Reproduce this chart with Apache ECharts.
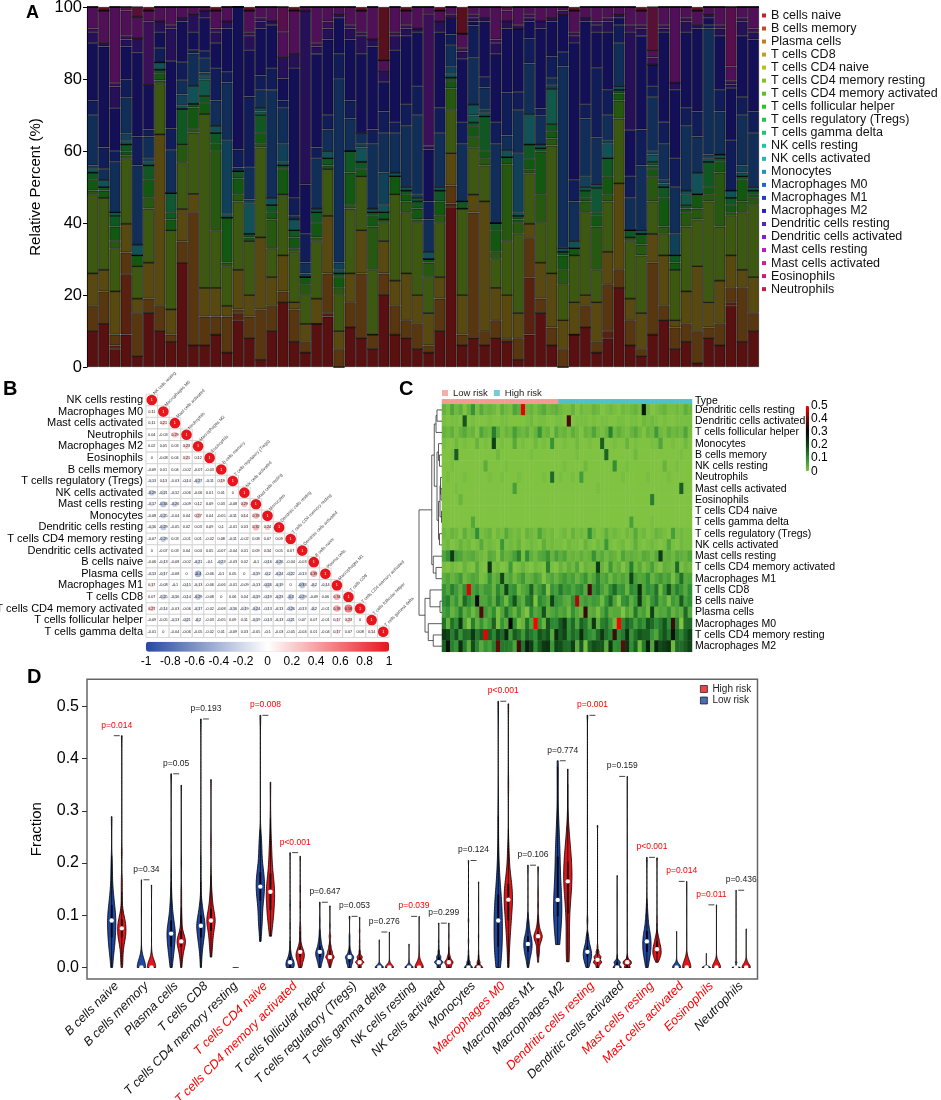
<!DOCTYPE html>
<html>
<head>
<meta charset="utf-8">
<script src="https://cdn.jsdelivr.net/npm/echarts@6/dist/echarts.min.js"></script>
<style>html,body{margin:0;padding:0;background:#fff}#main{width:941px;height:1100px}</style>
</head>
<body>
<div id="main"></div>
<script>
var FONT = "Liberation Sans, Arial, sans-serif";

// ---- samples: first nLow are low risk, the rest high risk (values in %) ----
var nLow = 28;
var cellTypes = ["B cells naive", "B cells memory", "Plasma cells", "T cells CD8", "T cells CD4 naive",
  "T cells CD4 memory resting", "T cells CD4 memory activated", "T cells follicular helper",
  "T cells regulatory (Tregs)", "T cells gamma delta", "NK cells resting", "NK cells activated",
  "Monocytes", "Macrophages M0", "Macrophages M1", "Macrophages M2", "Dendritic cells resting",
  "Dendritic cells activated", "Mast cells resting", "Mast cells activated", "Eosinophils", "Neutrophils"];

var bNaive = [10,12,5,9,3,15,10,7,28.9,6,6,9,4,13,8,2,10,18,7,4,12,14,0,11,8,5,20,9,
  8,5,4,10,44.4,6,8,6,8,7,2,9,15,6,0,9,11,4,8,22,6,3,9,13,5,7,1,8,6,17,7,10];
var bMemory = [0,0,1,16.8,0,0,0,0,0,0,0,0,0,2,0,0,0,0,0,0,0,1,0,0,0,0,0,0,
  0,0,0,0,1,0,0,0,0,0,0,15.8,0,0,0,0,0,0,2,0,0,0,0,0,0,0,0,0,0,1,0,0];
var plasma = [7,9,3,6,12,4,7,2,6,37.1,8,5,10,1,6,14,7,3,9,3,0,11,5,7,18,4,6,8,
  5,7,2,9,5,3,34.9,4,5,1,6,11,4,5,5,0,6,3,13,5,7,2,20,4,6,5,9,3,6,4,15,5];
var tCD8 = [9,6,12,8,4,10,47.6,7,9,5,8,8,3,11,6,20,8,10,2,5,7,16,5,8,12,0,9,7,
  13,8,9,6,9,11,5,36,9,12,7,4,10,15,8,9,3,11,9,24,6,10,8,14,2,9,18,7,12,9,5,10];
var tCD4Naive = [0,0,0,0,0,0,0,0,0,0,0,0,0,0,0,0,0,0,0,0,0,0,0,0,0,0,0,0,
  0,0,0,0,0,0,0,0,0,0,0,0,0,0,0,0,0,0,0,0,0,0,0,0,0,0,0,0,0,0,0,0];
var tCD4MemRest = [22,20,12,18,9,15,14,22,13,17,48.3,16,11,19,15,25,8,17,14,8,16,13,10,18,15,18,5,24,
  17,20,10,15,12,24,13,10,8,15,22,14,11,35.5,10,13,23,9,14,18,16,16,9,6,14,18,13,28,15,11,16,20];
var tCD4MemAct = [1,0,2,1,0,3,1,0,5,1,0,22,1,2,0,1,8,0,1,3,1,0,2,1,0,12,1,0,
  3,1,4,2,6,0,3,2,2,21.3,3,1,8,2,4,0,3,12,2,5,1,3,7,2,0,4,3,2,15,1,3,2];
var tFh = [3,2,4,1,3,5,2,3,0,6,3,2,12.5,4.4,1,3,2,7,3,2,4,1,3,9,2,3,0,5,
  2,3,1,4,2,0,3,2,6,2,1,3,11.8,2,4,2,1,3,5,2,0,3,2,8,2,1,4,2,3,2,6,1];
var tReg = [2,1,3,2,0,4,1,2,9.8,1,2,3,0,2,1,5,2,1,2,0,3,2,1,6,2,1,2,0,
  1,2,0,3,1,2,1,9.6,2,0,1,4,1,2,1,0,2,1,5,1,2,0,1,3,2,1,0,7,1,2,1,1];
var tGammaDelta = [0,0,0,0,0,0,0,5.3,0,0,0,0,0,0,0,0,0,0,0,0,0,0,0,0,0,0,0,0,
  0,0,0,0,0,0,0,0,0,0,0,0,0,0,0,0,0,6.8,0,0,0,0,1,0,0,0,0,0,0,0,0,0];
var nkRest = [0,0,1,0,0,0,0,0,0,0,4.5,0,0,0,0,1,0,0,0,0,0,0,0,0,0,0,0,0,
  0,1,0,0,0,0,2,0,0,0,0,0,0,9.8,0,0,1,0,0,0,0,0,0,0,0,3,0,0,1,0,0,0];
var nkAct = [1,2,0,1,3,1,2,0,1,5,1,2,1,0,8.5,1,2,1,3,0,1,2,1,0,4,1,2,1,
  1,0,2,1,1,0,3,1,0,2,1,8.5,1,0,1,2,0,1,4,1,0,1,2,1,0,1,6,1,0,2,1,1];
var monocytes = [1,0,0,2,0,1,0,0,3,0,1,0,20.5,0,1,0,0,5,0,1,0,0,2,0,1,0,9,0,
  0,1,0,0,2,0,0,1,0,0,16.4,0,0,1,0,0,3,0,1,0,0,0,1,1,6,0,0,1,0,0,2,0];
var macM0 = [14,3,14,10,22,6,0,12,4,9,4,7,16,1,9,5,30,10,1,3,14,6,51,9,3,18,11,11,
  17,22,9,15,6,16,13,6,22,4,12,14,8,2,50.5,11,16,13,7,12,9,18,15,10,13,18,10,35,12,0,14,15];
var macM1 = [4,6,3,5,8,2,4,6,5,1,2,9,3,5,19.6,4,6,2,5,8,3,4,7,5,0,4,6,3,
  6,8,5,7,3,6,9,3,6,12,5,7,2,6,4,6,4,19.3,7,5,6,10,3,6,8,5,7,1,6,14,5,6];
var macM2 = [16,28,11.9,9.2,23.3,12.4,4.4,18.7,11.3,4.9,9.2,7,12,39.6,12.9,13,12,6.1,36,13.7,26,21,10,17,22,23,8.2,20,
  19,15,14.4,21,4.6,17.6,1.1,15.4,19,17.7,17.6,4.7,22.2,9.7,10.5,38,23,9.9,16,2,12.8,26,6,25,19,21,23,2,15,14.5,17,20];
var dcRest = [3,1,6,2,4,0,3,9,1,5,2,3,2,0,4,2,1,6,4,48.3,2,3,1,3,5,2,3,4,
  2,1,1,3,0,2,1,1,3,2,0,1,2,1,0,2,1,2,3,1,27.2,2,0,1,2,3,1,1,2,1,4,2];
var dcAct = [1,0,1,1,0,17.6,0,1,0,0,0,1,0,0,1,1,0,0,0,0,1,2,0,1,1,0,0,1,
  1,0,36.6,0,1,1,1,0,1,0,1,1,0,0,1,1,0,1,1,0,2,1,2,1,0,1,0,0,1,1,1,1];
var mastRest = [6,9,21.1,7,6,3,4,5,3,2,1,5,4,0,6,3,4,7,12,1,10,4,2,5,6,9,3,7,
  4,6,2,3,2,4,2,3,9,3,5,2,4,3,1,6,3,4,3,2,5,4,2,5,21,3,4,2,5,4,3,6];
var mastAct = [0,0,0,1,0,0,0,0,0,0,0,0,0,0,0,0,0,6.9,0,0,0,0,0,0,0,0,0,0,
  0,0,0,0,0,0,0,0,0,1,0,0,0,0,0,0,0,0,0,0,0,0,0,0,0,0,0,0,0,16.5,0,0];
var eosinophils = [0,0,0,0,2.7,0,0,0,0,0,0,0,0,0,0,0,0,0,0,0,0,0,0,0,0,0,0,0,
  0,0,0,0,0,0,0,0,0,0,0,0,0,0,0,0,0,0,0,0,0,0,12,0,0,0,0,0,0,0,0,0];
var neutrophils = [0,1,0,0,0,1,0,0,0,0,0,1,0,0,1,0,0,0,1,0,0,0,0,0,1,0,14.8,0,
  1,0,0,1,0,7.4,0,0,0,0,0,0,0,0,0,1,0,0,0,0,0,1,0,0,0,0,1,0,0,0,0,0];

var fractions = [bNaive, bMemory, plasma, tCD8, tCD4Naive, tCD4MemRest, tCD4MemAct, tFh, tReg,
  tGammaDelta, nkRest, nkAct, monocytes, macM0, macM1, macM2, dcRest, dcAct, mastRest, mastAct,
  eosinophils, neutrophils];

var legendColors = ["#c32222","#c34a22","#c37a22","#c3a022","#b5c322","#86c322","#56c322","#2bc322",
  "#22c34a","#22c372","#22c3a5","#22b5c3","#2290c3","#2266c3","#2240c3","#2822c3","#5522c3","#8522c3",
  "#b022c3","#c322a8","#c32278","#c32245"];
var barColors = ["#581010","#582110","#583710","#584910","#525810","#3d5810","#275810","#135810",
  "#105821","#105833","#10584a","#105258","#104158","#102e58","#101d58","#131058","#261058","#3c1058",
  "#501058","#58104c","#581036","#58101e"];

// ---- panel B: correlation matrix (lower triangle) ----
var corrLabels = ["NK cells resting", "Macrophages M0", "Mast cells activated", "Neutrophils",
  "Macrophages M2", "Eosinophils", "B cells memory", "T cells regulatory (Tregs)", "NK cells activated",
  "Mast cells resting", "Monocytes", "Dendritic cells resting", "T cells CD4 memory resting",
  "Dendritic cells activated", "B cells naive", "Plasma cells", "Macrophages M1", "T cells CD8",
  "T cells CD4 memory activated", "T cells follicular helper", "T cells gamma delta"];
var corrValues = [
  [1],
  [0.11, 1],
  [0.11, 0.21, 1],
  [0.04, -0.03, 0.29, 1],
  [0.02, 0.05, 0.03, 0.23, 1],
  [0, -0.08, 0.04, 0.21, 0.12, 1],
  [-0.09, 0.01, 0.04, -0.02, -0.07, -0.03, 1],
  [-0.13, 0.13, -0.03, -0.14, -0.27, -0.11, 0.19, 1],
  [-0.29, -0.21, -0.12, -0.06, -0.06, 0.01, 0.01, 0, 1],
  [-0.17, -0.34, -0.26, -0.09, 0.12, 0.09, 0.03, -0.08, 0.29, 1],
  [-0.08, -0.25, -0.04, 0.04, 0.27, 0.04, -0.05, -0.11, 0.14, 0.33, 1],
  [-0.16, -0.29, -0.05, 0.02, 0.03, 0.09, 0.1, -0.01, 0.03, 0.32, 0.24, 1],
  [-0.07, -0.29, 0.03, -0.01, 0.01, -0.02, 0.08, -0.11, -0.02, 0.08, 0.07, 0.09, 1],
  [0, -0.07, 0.03, 0.04, 0.04, 0.05, -0.07, -0.04, 0.01, 0.09, 0.14, 0.05, 0.07, 1],
  [-0.06, -0.13, -0.08, -0.02, -0.21, -0.1, -0.23, -0.03, 0.02, -0.1, -0.16, -0.26, -0.04, -0.03, 1],
  [-0.13, -0.17, -0.08, 0, -0.4, -0.06, -0.1, 0.05, 0, -0.19, -0.2, -0.24, -0.22, -0.13, 0.39, 1],
  [0.17, -0.08, -0.1, -0.15, -0.13, -0.06, -0.06, -0.01, -0.09, -0.13, -0.26, -0.19, 0, -0.33, -0.2, -0.14, 1],
  [0.07, -0.25, -0.16, -0.14, -0.29, -0.08, 0, 0.06, 0.04, -0.19, -0.19, -0.23, -0.3, -0.29, -0.09, 0.06, 0.34, 1],
  [0.27, -0.14, -0.03, -0.06, -0.17, -0.02, -0.08, -0.16, -0.19, -0.24, -0.13, -0.13, -0.26, -0.13, -0.2, -0.01, 0.38, 0.58, 1],
  [-0.09, -0.05, -0.13, -0.21, -0.2, -0.03, -0.05, 0.09, 0.11, -0.19, -0.13, -0.13, -0.21, 0.07, 0.07, -0.01, 0.17, 0.23, 0, 1],
  [-0.01, 0, -0.04, -0.06, -0.05, -0.02, 0.01, -0.09, 0.03, -0.05, -0.1, -0.03, -0.05, -0.04, 0.01, -0.04, 0.17, 0.07, 0.08, 0.14, 1]
];
var corrColors = ["#2548a0", "#ffffff", "#e8161c"];
var corrTicks = [-1, 1];

// ---- panel C: heatmap rows and dendrogram merges [childA, childB, height] ----
var heatRows = ["Dendritic cells resting", "Dendritic cells activated", "T cells follicular helper",
  "Monocytes", "B cells memory", "NK cells resting", "Neutrophils", "Mast cells activated", "Eosinophils",
  "T cells CD4 naive", "T cells gamma delta", "T cells regulatory (Tregs)", "NK cells activated",
  "Mast cells resting", "T cells CD4 memory activated", "Macrophages M1", "T cells CD8", "B cells naive",
  "Plasma cells", "Macrophages M0", "T cells CD4 memory resting", "Macrophages M2"];
var dendroMerges = [[0,1,0.2],[22,2,0.24],[4,5,0.1],[3,24,0.14],[7,8,0.04],[6,26,0.06],[9,10,0.02],
  [27,28,0.08],[11,12,0.1],[29,30,0.14],[25,31,0.2],[23,32,0.31],[14,15,0.24],[13,34,0.35],[33,35,0.41],
  [17,18,0.08],[16,37,0.48],[20,21,0.35],[19,39,0.55],[38,40,0.68],[36,41,0.92]];
var heatColors = ["#80c342", "#2f8f35", "#0e4416", "#080808", "#6a0e0e", "#ff0000"];
var typeColors = ["#f39b93", "#4fc1c8"];

// ---- panel D: violin labels and p values ----
var violinLabels = ["B cells naive", "B cells memory", "Plasma cells", "T cells CD8",
  "T cells CD4 memory resting", "T cells CD4 naive", "T cells CD4 memory activated",
  "T cells follicular helper", "T cells regulatory (Tregs)", "T cells gamma delta", "NK cells resting",
  "NK cells activated", "Monocytes", "Macrophages M0", "Macrophages M1", "Macrophages M2",
  "Dendritic cells resting", "Dendritic cells activated", "Mast cells resting", "Mast cells activated",
  "Eosinophils", "Neutrophils"];
var pValues = ["p=0.014", "p=0.34", "p=0.05", "p=0.193", "", "p=0.008", "p<0.001", "p=0.647", "p=0.053",
  "p=0.276", "p=0.039", "p=0.299", "p=0.124", "p<0.001", "p=0.106", "p=0.774", "p=0.001", "p=0.159",
  "p<0.001", "p=0.014", "p=0.011", "p=0.436"];
var redLabels = ["T cells CD4 naive", "T cells CD4 memory activated", "Macrophages M0",
  "Dendritic cells resting", "Mast cells resting", "Mast cells activated", "Eosinophils"];
var fractionTicks = [0, 0.1, 0.2, 0.3, 0.4, 0.5];
var lowColor = "#1f48a3", highColor = "#e8141b";

// ---------------------------------------------------------------
var sampleNames = bNaive.map(function (v, s) { return "S" + (s + 1); });

function quantile(sorted, p) {
  var h = (sorted.length - 1) * p, lo = Math.floor(h);
  var hi = Math.min(lo + 1, sorted.length - 1);
  return sorted[lo] + (h - lo) * (sorted[hi] - sorted[lo]);
}

function violinStats(values) {
  var v = values.slice().sort(function (a, b) { return a - b; });
  var n = v.length;
  var mean = v.reduce(function (s, x) { return s + x; }, 0) / n;
  var sd = Math.sqrt(v.reduce(function (s, x) { return s + (x - mean) * (x - mean); }, 0) / (n - 1));
  var st = { min: v[0], max: v[n - 1], q1: quantile(v, 0.25), med: quantile(v, 0.5), q3: quantile(v, 0.75) };
  if (sd === 0) return st;
  var iqr = st.q3 - st.q1;
  var lo = Math.min(sd, iqr / 1.34) || sd;
  var bw = 0.9 * lo * Math.pow(n, -0.2);
  var prof = [], peak = 0;
  for (var k = 0; k <= 90; k++) {
    var y = st.min + (st.max - st.min) * k / 90, d = 0;
    v.forEach(function (x) { var z = (y - x) / bw; d += Math.exp(-0.5 * z * z); });
    prof.push([y, d]);
    peak = Math.max(peak, d);
  }
  st.profile = prof.map(function (p) { return [p[0], p[1] / peak]; });
  st.upper = Math.min(st.q3 + 1.5 * iqr, st.max);
  st.lower = Math.max(st.q1 - 1.5 * iqr, st.min);
  return st;
}

var violins = fractions.map(function (arr) {
  var f = arr.map(function (x) { return x / 100; });
  return { low: violinStats(f.slice(0, nLow)), high: violinStats(f.slice(nLow)) };
});

var corrData = [];
corrValues.forEach(function (row, i) {
  row.forEach(function (r, j) { corrData.push([j, i, r]); });
});

var heatData = [];
heatRows.forEach(function (name, r) {
  var arr = fractions[cellTypes.indexOf(name)];
  arr.forEach(function (v, s) { heatData.push([s, r, v / 100]); });
});
var typeData = sampleNames.map(function (n, s) { return [s, 0, s < nLow ? 0 : 1]; });

var nodeY = heatRows.map(function (n, i) { return i; });
var nodeH = heatRows.map(function () { return 0; });
var dendroData = dendroMerges.map(function (m) {
  var item = [nodeY[m[0]], nodeY[m[1]], m[2], nodeH[m[0]], nodeH[m[1]]];
  nodeY.push((nodeY[m[0]] + nodeY[m[1]]) / 2);
  nodeH.push(m[2]);
  return item;
});

var barSeries = cellTypes.map(function (name, k) {
  return {
    name: name, type: "bar", stack: "total", xAxisIndex: 0, yAxisIndex: 0,
    barCategoryGap: "0%", data: fractions[k],
    itemStyle: { color: barColors[k], borderColor: "rgba(0,0,0,0.75)", borderWidth: 0.7 },
    emphasis: { disabled: true }
  };
});

var halfWidth = 0.14;

var option = {
  animation: false,
  backgroundColor: "#fff",
  textStyle: { fontFamily: FONT },
  title: [
    { text: "A", left: 26, top: 4, padding: 0, textStyle: { fontSize: 18, fontWeight: "bold", color: "#000", fontFamily: FONT } },
    { text: "B", left: 3, top: 379, padding: 0, textStyle: { fontSize: 20, fontWeight: "bold", color: "#000", fontFamily: FONT } },
    { text: "C", left: 399, top: 379, padding: 0, textStyle: { fontSize: 20, fontWeight: "bold", color: "#000", fontFamily: FONT } },
    { text: "D", left: 27, top: 667, padding: 0, textStyle: { fontSize: 20, fontWeight: "bold", color: "#000", fontFamily: FONT } }
  ],
  legend: [
    {
      orient: "vertical", left: 762, top: 9, padding: 0, itemWidth: 4, itemHeight: 4, itemGap: 0.03,
      icon: "rect", selectedMode: false,
      textStyle: { fontSize: 12.5, color: "#111", fontFamily: FONT },
      data: cellTypes.map(function (n, i) { return { name: n, itemStyle: { color: legendColors[i], borderWidth: 0 } }; })
    },
    {
      orient: "horizontal", left: 442, top: 388, padding: 0, itemWidth: 6, itemHeight: 6, itemGap: 6,
      icon: "rect", selectedMode: false,
      textStyle: { fontSize: 9.5, color: "#222", fontFamily: FONT },
      data: [{ name: "Low risk", itemStyle: { color: typeColors[0] } }, { name: "High risk", itemStyle: { color: typeColors[1] } }]
    },
    {
      orient: "vertical", left: 700, top: 684, padding: 0, itemWidth: 7, itemHeight: 7, itemGap: 1.5,
      icon: "rect", selectedMode: false,
      textStyle: { fontSize: 10, color: "#222", fontFamily: FONT },
      data: [
        { name: "High risk", itemStyle: { color: highColor, borderColor: "#000", borderWidth: 0.8 } },
        { name: "Low risk", itemStyle: { color: lowColor, borderColor: "#000", borderWidth: 0.8 } }
      ]
    }
  ],
  visualMap: [
    {
      type: "continuous", seriesIndex: 22, dimension: 2, min: -1, max: 1, orient: "horizontal",
      left: 146, top: 641.7, itemWidth: 10, itemHeight: 243, padding: 0, calculable: false, hoverLink: false,
      inRange: { color: corrColors }
    },
    {
      type: "continuous", seriesIndex: 24, dimension: 2, min: 0, max: 0.5, orient: "vertical",
      left: 805.7, top: 405.7, itemWidth: 3.3, itemHeight: 65.5, padding: 0, calculable: false, hoverLink: false,
      inRange: { color: heatColors }
    },
    {
      type: "piecewise", seriesIndex: 23, dimension: 2, show: false,
      pieces: [{ value: 0, color: typeColors[0] }, { value: 1, color: typeColors[1] }]
    }
  ],
  grid: [
    { left: 87, top: 7, width: 672, height: 360, outerBoundsMode: "none" },
    { left: 146, top: 394.2, width: 243, height: 243.3, outerBoundsMode: "none" },
    { left: 146, top: 651.7, width: 243, height: 1, outerBoundsMode: "none" },
    { left: 442, top: 399.3, width: 250, height: 4.5, outerBoundsMode: "none" },
    { left: 442, top: 404.3, width: 250, height: 247.5, outerBoundsMode: "none" },
    { left: 417, top: 404.3, width: 25, height: 247.5, outerBoundsMode: "none" },
    { left: 805.7, top: 405.7, width: 3.3, height: 65.5, outerBoundsMode: "none" },
    { left: 87, top: 679.3, width: 670.5, height: 299.7, show: true, borderColor: "#666", borderWidth: 1.5, outerBoundsMode: "none" }
  ],
  xAxis: [
    { type: "category", gridIndex: 0, data: sampleNames, show: false },
    { type: "category", gridIndex: 1, data: corrLabels, show: false },
    {
      type: "value", gridIndex: 2, min: corrTicks[0], max: corrTicks[1], interval: 0.2,
      axisLine: { show: false }, axisTick: { show: false }, splitLine: { show: false },
      axisLabel: { fontSize: 12, color: "#000", margin: 3, fontFamily: FONT }
    },
    { type: "category", gridIndex: 3, data: sampleNames, show: false },
    { type: "category", gridIndex: 4, data: sampleNames, show: false },
    { type: "value", gridIndex: 5, min: 0, max: 1, inverse: true, show: false },
    { type: "value", gridIndex: 6, show: false },
    {
      type: "value", gridIndex: 7, min: 0, max: 22.55, interval: 1,
      axisLine: { show: false }, axisTick: { show: false }, splitLine: { show: false },
      axisLabel: {
        rotate: 45, margin: 5, fontSize: 12.5, fontStyle: "italic", color: "#111", fontFamily: FONT,
        hideOverlap: false,
        formatter: function (v) {
          var k = Math.round(v);
          if (Math.abs(v - k) > 1e-6 || k < 1 || k > violinLabels.length) return "";
          var name = violinLabels[k - 1];
          return redLabels.indexOf(name) >= 0 ? "{r|" + name + "}" : name;
        },
        rich: { r: { color: "#ff0000", fontStyle: "italic", fontSize: 12.5, fontFamily: FONT } }
      }
    }
  ],
  yAxis: [
    {
      type: "value", gridIndex: 0, min: 0, max: 100, interval: 20,
      name: "Relative Percent (%)", nameLocation: "middle", nameGap: 43,
      nameTextStyle: { fontSize: 15, color: "#000", fontFamily: FONT },
      axisLine: { show: true, lineStyle: { color: "#000", width: 1 } },
      axisTick: { show: true, length: 4, lineStyle: { color: "#000" } },
      splitLine: { show: false },
      axisLabel: { fontSize: 16.5, color: "#000", margin: 5, fontFamily: FONT }
    },
    {
      type: "category", gridIndex: 1, data: corrLabels, inverse: true,
      axisLine: { show: false }, axisTick: { show: false },
      axisLabel: { interval: 0, fontSize: 11, color: "#000", margin: 3, fontFamily: FONT }
    },
    { type: "value", gridIndex: 2, show: false },
    {
      type: "category", gridIndex: 3, data: ["Type"], position: "right",
      axisLine: { show: false }, axisTick: { show: false },
      axisLabel: { fontSize: 10.5, color: "#000", margin: 3, fontFamily: FONT, padding: [0, 0, 5, 0] }
    },
    {
      type: "category", gridIndex: 4, data: heatRows, inverse: true, position: "right",
      axisLine: { show: false }, axisTick: { show: false },
      axisLabel: { interval: 0, fontSize: 10.5, color: "#000", margin: 3, fontFamily: FONT }
    },
    { type: "value", gridIndex: 5, min: -0.5, max: 21.5, inverse: true, show: false },
    {
      type: "value", gridIndex: 6, min: 0, max: 0.5, interval: 0.1, position: "right",
      axisLine: { show: false }, axisTick: { show: false }, splitLine: { show: false },
      axisLabel: { fontSize: 12, color: "#000", margin: 2, fontFamily: FONT }
    },
    {
      type: "value", gridIndex: 7, min: -0.022, max: 0.552,
      name: "Fraction", nameLocation: "middle", nameGap: 43,
      nameTextStyle: { fontSize: 15, color: "#000", fontFamily: FONT },
      axisLine: { show: false }, splitLine: { show: false },
      axisTick: { show: true, length: 5, lineStyle: { color: "#333" }, customValues: fractionTicks },
      axisLabel: {
        fontSize: 16, color: "#000", margin: 8, fontFamily: FONT, customValues: fractionTicks,
        formatter: function (v) {
          var k = Math.round(v * 10);
          return Math.abs(v * 10 - k) < 1e-6 && k >= 0 ? (k / 10).toFixed(1) : "";
        }
      }
    }
  ],
  series: barSeries.concat([
    {
      type: "custom", xAxisIndex: 1, yAxisIndex: 1, data: corrData, silent: true, clip: false,
      encode: { x: 0, y: 1 },
      renderItem: function (params, api) {
        var col = api.value(0), row = api.value(1), r = api.value(2);
        var c = api.coord([col, row]);
        var sz = api.size([1, 1]);
        var w = sz[0], h = sz[1];
        var kids = [
          { type: "rect", shape: { x: c[0] - w / 2, y: c[1] - h / 2, width: w, height: h },
            style: { fill: "#fff", stroke: "#cfcfcf", lineWidth: 0.8 } },
          { type: "circle", shape: { cx: c[0], cy: c[1], r: Math.sqrt(Math.abs(r)) * w * 0.46 },
            style: { fill: api.visual("color") } },
          { type: "text", style: { text: String(r), x: c[0], y: c[1], align: "center", verticalAlign: "middle",
            fontSize: 3.8, fill: col === row ? "#fff" : "#222", fontFamily: FONT } }
        ];
        if (col === row) {
          kids.push({ type: "text", x: c[0] + w * 0.3, y: c[1] - h * 0.4, rotation: Math.PI / 4,
            style: { text: corrLabels[col], align: "left", verticalAlign: "bottom", fontSize: 4.4,
              fill: "#444", fontFamily: FONT } });
        }
        return { type: "group", children: kids };
      }
    },
    {
      type: "heatmap", xAxisIndex: 3, yAxisIndex: 3, data: typeData, silent: true,
      emphasis: { disabled: true }
    },
    {
      type: "heatmap", xAxisIndex: 4, yAxisIndex: 4, data: heatData, silent: true,
      emphasis: { disabled: true }
    },
    {
      type: "custom", xAxisIndex: 5, yAxisIndex: 5, data: dendroData, silent: true, clip: false,
      encode: { x: 2, y: 0 },
      renderItem: function (params, api) {
        var yA = api.value(0), yB = api.value(1), h = api.value(2), hA = api.value(3), hB = api.value(4);
        var pts = [api.coord([hA, yA]), api.coord([h, yA]), api.coord([h, yB]), api.coord([hB, yB])];
        return { type: "polyline", shape: { points: pts }, style: { stroke: "#333", lineWidth: 0.8, fill: null } };
      }
    },
    {
      type: "custom", xAxisIndex: 7, yAxisIndex: 7, silent: true, clip: false,
      data: violinLabels.map(function (n, i) { return [i + 1, 0]; }),
      encode: { x: 0, y: 1 },
      renderItem: function (params, api) {
        var pos = api.value(0), pair = violins[pos - 1], kids = [];
        [[pair.low, -0.17, lowColor], [pair.high, 0.17, highColor]].forEach(function (g) {
          var st = g[0], cx = pos + g[1];
          if (!st.profile) return;
          var left = st.profile.map(function (p) { return api.coord([cx - p[1] * halfWidth, p[0]]); });
          var right = st.profile.slice().reverse().map(function (p) { return api.coord([cx + p[1] * halfWidth, p[0]]); });
          kids.push({ type: "polygon", shape: { points: left.concat(right) },
            style: { fill: g[2], stroke: "#000", lineWidth: 0.8 } });
          var a = api.coord([cx, st.lower]), b = api.coord([cx, st.upper]);
          kids.push({ type: "line", shape: { x1: a[0], y1: a[1], x2: b[0], y2: b[1] },
            style: { stroke: "#000", lineWidth: 0.8 } });
          var q1 = api.coord([cx, st.q1]), q3 = api.coord([cx, st.q3]);
          kids.push({ type: "rect", shape: { x: q1[0] - 0.9, y: q3[1], width: 1.8, height: Math.max(q1[1] - q3[1], 0.5) },
            style: { fill: "#000" } });
          var m = api.coord([cx, st.med]);
          kids.push({ type: "circle", shape: { cx: m[0], cy: m[1], r: 2.2 }, style: { fill: "#fff" } });
        });
        var mx = Math.max(pair.low.max, pair.high.max);
        var l = api.coord([pos - 0.1, mx]), r = api.coord([pos + 0.1, mx]);
        kids.push({ type: "line", shape: { x1: l[0], y1: l[1], x2: r[0], y2: r[1] },
          style: { stroke: "#444", lineWidth: 1 } });
        var p = pValues[pos - 1];
        if (p) {
          var t = api.coord([pos, mx + 0.02]);
          var sig = parseFloat(p.slice(2)) < 0.05;
          kids.push({ type: "text", style: { text: p, x: t[0], y: t[1], align: "center", verticalAlign: "middle",
            fontSize: 8.5, fill: sig ? "#ff0000" : "#222", fontFamily: FONT } });
        }
        return { type: "group", children: kids };
      }
    },
    { name: "Low risk", type: "scatter", xAxisIndex: 7, yAxisIndex: 7, data: [], itemStyle: { color: lowColor } },
    { name: "High risk", type: "scatter", xAxisIndex: 7, yAxisIndex: 7, data: [], itemStyle: { color: highColor } }
  ])
};

var chart = echarts.init(document.getElementById("main"));
chart.setOption(option);
</script>
</body>
</html>
